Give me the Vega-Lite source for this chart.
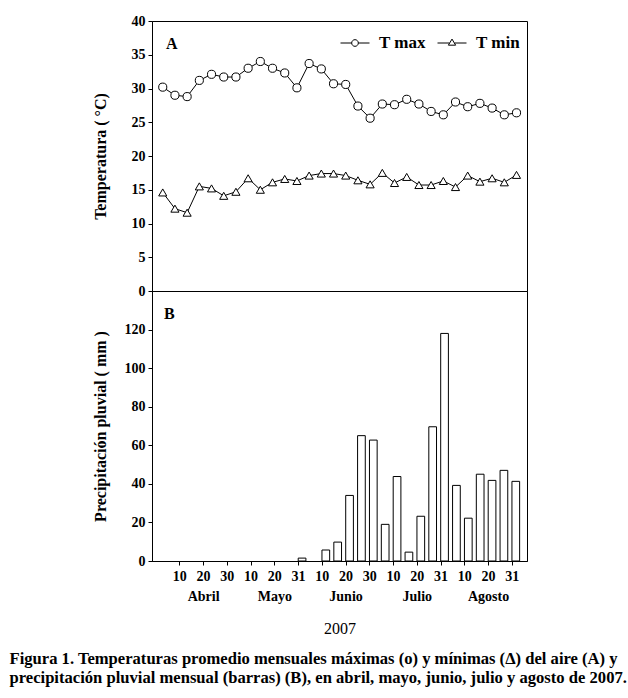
{
  "$schema": "https://vega.github.io/schema/vega-lite/v6.json",
  "background": "white",
  "padding": {"left": 9, "top": 13, "right": 5, "bottom": 5},
  "datasets": {
    "temp": [
      {"p": 0, "series": "T max", "t": 30.2}, {"p": 1, "series": "T max", "t": 29.0}, {"p": 2, "series": "T max", "t": 28.8},
      {"p": 3, "series": "T max", "t": 31.2}, {"p": 4, "series": "T max", "t": 32.1}, {"p": 5, "series": "T max", "t": 31.7},
      {"p": 6, "series": "T max", "t": 31.7}, {"p": 7, "series": "T max", "t": 33.0}, {"p": 8, "series": "T max", "t": 34.0},
      {"p": 9, "series": "T max", "t": 33.0}, {"p": 10, "series": "T max", "t": 32.3}, {"p": 11, "series": "T max", "t": 30.1},
      {"p": 12, "series": "T max", "t": 33.7}, {"p": 13, "series": "T max", "t": 32.9}, {"p": 14, "series": "T max", "t": 30.7},
      {"p": 15, "series": "T max", "t": 30.6}, {"p": 16, "series": "T max", "t": 27.4}, {"p": 17, "series": "T max", "t": 25.6},
      {"p": 18, "series": "T max", "t": 27.7}, {"p": 19, "series": "T max", "t": 27.6}, {"p": 20, "series": "T max", "t": 28.4},
      {"p": 21, "series": "T max", "t": 27.7}, {"p": 22, "series": "T max", "t": 26.6}, {"p": 23, "series": "T max", "t": 26.1},
      {"p": 24, "series": "T max", "t": 28.0}, {"p": 25, "series": "T max", "t": 27.3}, {"p": 26, "series": "T max", "t": 27.8},
      {"p": 27, "series": "T max", "t": 27.1}, {"p": 28, "series": "T max", "t": 26.1}, {"p": 29, "series": "T max", "t": 26.4},
      {"p": 0, "series": "T min", "t": 14.6}, {"p": 1, "series": "T min", "t": 12.2}, {"p": 2, "series": "T min", "t": 11.6},
      {"p": 3, "series": "T min", "t": 15.5}, {"p": 4, "series": "T min", "t": 15.2}, {"p": 5, "series": "T min", "t": 14.1},
      {"p": 6, "series": "T min", "t": 14.7}, {"p": 7, "series": "T min", "t": 16.7}, {"p": 8, "series": "T min", "t": 15.0},
      {"p": 9, "series": "T min", "t": 16.1}, {"p": 10, "series": "T min", "t": 16.6}, {"p": 11, "series": "T min", "t": 16.3},
      {"p": 12, "series": "T min", "t": 17.1}, {"p": 13, "series": "T min", "t": 17.4}, {"p": 14, "series": "T min", "t": 17.4},
      {"p": 15, "series": "T min", "t": 17.1}, {"p": 16, "series": "T min", "t": 16.4}, {"p": 17, "series": "T min", "t": 15.8},
      {"p": 18, "series": "T min", "t": 17.5}, {"p": 19, "series": "T min", "t": 16.0}, {"p": 20, "series": "T min", "t": 16.9},
      {"p": 21, "series": "T min", "t": 15.7}, {"p": 22, "series": "T min", "t": 15.7}, {"p": 23, "series": "T min", "t": 16.3},
      {"p": 24, "series": "T min", "t": 15.4}, {"p": 25, "series": "T min", "t": 17.1}, {"p": 26, "series": "T min", "t": 16.2},
      {"p": 27, "series": "T min", "t": 16.7}, {"p": 28, "series": "T min", "t": 16.1}, {"p": 29, "series": "T min", "t": 17.2}
    ],
    "rain": [
      {"p": 0, "mm": 0}, {"p": 1, "mm": 0}, {"p": 2, "mm": 0}, {"p": 3, "mm": 0}, {"p": 4, "mm": 0},
      {"p": 5, "mm": 0}, {"p": 6, "mm": 0}, {"p": 7, "mm": 0}, {"p": 8, "mm": 0}, {"p": 9, "mm": 0},
      {"p": 10, "mm": 0}, {"p": 11, "mm": 1.5}, {"p": 12, "mm": 0}, {"p": 13, "mm": 5.7}, {"p": 14, "mm": 9.8},
      {"p": 15, "mm": 34}, {"p": 16, "mm": 65}, {"p": 17, "mm": 62.7}, {"p": 18, "mm": 19}, {"p": 19, "mm": 43.8},
      {"p": 20, "mm": 4.6}, {"p": 21, "mm": 23.2}, {"p": 22, "mm": 69.6}, {"p": 23, "mm": 118}, {"p": 24, "mm": 39.2},
      {"p": 25, "mm": 22.2}, {"p": 26, "mm": 45}, {"p": 27, "mm": 41.8}, {"p": 28, "mm": 47}, {"p": 29, "mm": 41.3}
    ]
  },
  "title": {
    "text": ["Figura 1. Temperaturas promedio mensuales máximas (o) y mínimas (Δ) del aire (A) y", "precipitación pluvial mensual (barras) (B), en abril, mayo, junio, julio y agosto de 2007."],
    "orient": "bottom",
    "anchor": "start",
    "frame": "bounds",
    "dx": -82,
    "offset": 14,
    "font": "Liberation Serif",
    "fontSize": 16.6,
    "fontWeight": "bold",
    "lineHeight": 19,
    "color": "black"
  },
  "spacing": 0,
  "bounds": "flush",
  "vconcat": [
    {
      "width": 375,
      "height": 270,
      "title": {"text": "A", "anchor": "start", "orient": "top", "frame": "group", "offset": 0, "baseline": "alphabetic", "dx": 14, "dy": 51, "fontSize": 16, "fontWeight": "bold", "font": "Liberation Serif", "color": "black"},
      "data": {"name": "temp"},
      "encoding": {
        "x": {"field": "p", "type": "quantitative", "scale": {"domain": [-0.88, 29.86], "nice": false, "zero": false}, "axis": null},
        "y": {"field": "t", "type": "quantitative", "scale": {"domain": [0, 40], "nice": false}, "axis": {"values": [0, 5, 10, 15, 20, 25, 30, 35, 40], "title": "Temperatura ( °C)", "titleX": -44}}
      },
      "layer": [
        {"mark": {"type": "line", "color": "black", "strokeWidth": 1}, "encoding": {"detail": {"field": "series"}}},
        {
          "mark": {"type": "point", "filled": true, "fill": "white", "stroke": "black", "strokeWidth": 1, "size": 66, "opacity": 1},
          "encoding": {
            "shape": {"field": "series", "type": "nominal", "scale": {"domain": ["T max", "T min"], "range": ["circle", "triangle-up"]}, "legend": null}
          }
        },
        {
          "transform": [{"filter": "datum.p < 0"}],
          "mark": {"type": "point", "filled": true, "fill": "white", "stroke": "black", "strokeWidth": 1, "opacity": 1},
          "encoding": {
            "shape": {
              "field": "series", "type": "nominal",
              "scale": {"domain": ["T max", "T min"], "range": ["M-1,0L-0.23,0M0.23,0L1,0M-0.23,0A0.23,0.23,0,1,0,0.23,0A0.23,0.23,0,1,0,-0.23,0Z", "M-1,0L-0.18,0M0.18,0L1,0M0,-0.27L0.25,0.15L-0.25,0.15Z"]},
              "legend": {
                "title": null, "orient": "top-right", "direction": "horizontal", "offset": 7, "padding": 0,
                "symbolSize": 841, "symbolStrokeWidth": 1,
                "labelFont": "Liberation Serif", "labelFontWeight": "bold", "labelFontSize": 17, "labelColor": "black",
                "labelOffset": 9, "columnPadding": 9
              }
            }
          }
        }
      ],
      "resolve": {"scale": {"shape": "independent"}}
    },
    {
      "width": 375,
      "height": 270,
      "title": {"text": "B", "anchor": "start", "orient": "top", "frame": "group", "offset": 0, "baseline": "alphabetic", "dx": 12, "dy": 44, "fontSize": 16, "fontWeight": "bold", "font": "Liberation Serif", "color": "black"},
      "data": {"name": "rain"},
      "transform": [{"filter": "datum.mm > 0"}],
      "mark": {"type": "bar", "fill": "white", "stroke": "black", "strokeWidth": 1, "width": 7.7, "xOffset": 4},
      "encoding": {
        "x": {"field": "p", "type": "quantitative", "scale": {"domain": [-0.88, 29.86], "nice": false, "zero": false},
          "axis": {"values": [1, 3, 5, 7, 9, 11, 13, 15, 17, 19, 21, 23, 25, 27, 29],
            "labelExpr": "datum.value % 6 == 3 ? ['20', ['Abril', 'Mayo', 'Junio', 'Julio', 'Agosto'][floor(datum.value / 6)]] : (datum.value % 6 == 1 ? '10' : ['30', '31', '30', '31', '31'][floor(datum.value / 6)])",
            "labelLineHeight": 20, "labelBaseline": "top", "labelPadding": 4,
            "title": "2007", "titleFontWeight": "normal", "titleFontSize": 16, "titlePadding": 17}},
        "y": {"field": "mm", "type": "quantitative", "scale": {"domain": [0, 140], "nice": false},
          "axis": {"values": [0, 20, 40, 60, 80, 100, 120], "title": "Precipitación pluvial ( mm )", "titleX": -44}}
      }
    }
  ],
  "config": {
    "font": "Liberation Serif",
    "view": {"stroke": "black", "strokeWidth": 1},
    "axis": {
      "grid": false, "labelFlush": false, "labelOverlap": false,
      "labelFont": "Liberation Serif", "labelFontWeight": "bold", "labelFontSize": 14, "labelColor": "black",
      "domainColor": "black", "tickColor": "black", "tickSize": 4, "labelPadding": 3,
      "titleFont": "Liberation Serif", "titleFontWeight": "bold", "titleFontSize": 16, "titleColor": "black"
    }
  }
}
